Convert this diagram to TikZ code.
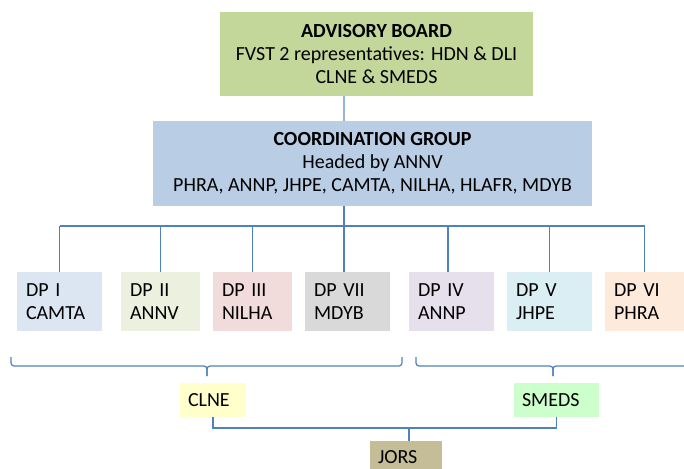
\documentclass[tikz,border=0pt]{standalone}
\usepackage{fontspec}
\setmainfont{Carlito}
\definecolor{abc}{HTML}{C4D79B}
\definecolor{cgc}{HTML}{B9CDE5}
\definecolor{c1}{HTML}{DCE6F2}
\definecolor{c2}{HTML}{EBF1DE}
\definecolor{c3}{HTML}{F2DCDB}
\definecolor{c7}{HTML}{D9D9D9}
\definecolor{c4}{HTML}{E6E0EC}
\definecolor{c5}{HTML}{DBEEF4}
\definecolor{c6}{HTML}{FDEADA}
\definecolor{clnec}{HTML}{FFFFCC}
\definecolor{smedsc}{HTML}{CCFFCC}
\definecolor{jorsc}{HTML}{C4BD97}
\definecolor{linec}{HTML}{4F81BD}
\definecolor{lightlinec}{HTML}{95B3D7}
\tikzset{
  box/.style={inner sep=0pt, font=\fontsize{20}{23}\selectfont, text=black},
  topbox/.style={box, align=center},
  dpbox/.style={box, align=left, inner xsep=9pt, minimum height=59pt},
  smallbox/.style={box, align=left, inner xsep=8pt, minimum height=34pt},
  conn/.style={draw=linec, line width=1.2pt},
  brace/.style={draw=linec, line width=1.2pt, rounded corners=3pt},
}
\begin{document}
\begin{tikzpicture}[x=1pt,y=-1pt]
\useasboundingbox (0,0) rectangle (684,468);
% top boxes
\node[topbox, fill=abc, minimum width=313pt, minimum height=84pt] (ab) at (376.5,54)
  {\textbf{ADVISORY BOARD}\\FVST 2 representatives: HDN \& DLI\\CLNE \& SMEDS};
\node[topbox, fill=cgc, minimum width=439pt, minimum height=85pt] (cg) at (372.5,163.5)
  {\textbf{COORDINATION GROUP}\\Headed by ANNV\\PHRA, ANNP, JHPE, CAMTA, NILHA, HLAFR, MDYB};
% DP boxes
\node[dpbox, fill=c1, text width=67pt] (dp1) at (59.5,301.5) {DP I\\CAMTA};
\node[dpbox, fill=c2, text width=61pt] (dp2) at (160.5,301.5) {DP II\\ANNV};
\node[dpbox, fill=c3, text width=61pt] (dp3) at (252.5,301.5) {DP III\\NILHA};
\node[dpbox, fill=c7, text width=67pt] (dp7) at (347.5,301.5) {DP VII\\MDYB};
\node[dpbox, fill=c4, text width=67pt] (dp4) at (451.5,301.5) {DP IV\\ANNP};
\node[dpbox, fill=c5, text width=67pt] (dp5) at (549.5,301.5) {DP V\\JHPE};
\node[dpbox, fill=c6, text width=61pt] (dp6) at (644.5,301.5) {DP VI\\PHRA};
% bottom boxes
\node[smallbox, fill=clnec, text width=50pt] (clne) at (213,400) {CLNE};
\node[smallbox, fill=smedsc, text width=69pt] (smeds) at (556.5,400) {SMEDS};
\node[smallbox, fill=jorsc, text width=56pt, minimum height=31pt, anchor=north] (jors) at (406,441) {JORS};
% coordinates
\coordinate (spine) at (344,0);
\coordinate (bus) at (0,226);
\coordinate (lowbus) at (0,428);
% connectors
\draw[draw=lightlinec, line width=1.2pt] (ab.south -| spine) -- (cg.north -| spine);
\draw[conn] (cg.south -| spine) -- (dp7.north -| spine);
\draw[conn] (dp1.north |- bus) -- (dp6.north |- bus);
\draw[conn] (dp1.north) -- (dp1.north |- bus);
\draw[conn] (dp2.north) -- (dp2.north |- bus);
\draw[conn] (dp3.north) -- (dp3.north |- bus);
\draw[conn] ([xshift=-3.5pt]dp4.north) -- ([xshift=-3.5pt]dp4.north |- bus);
\draw[conn] (dp5.north) -- (dp5.north |- bus);
\draw[conn] (dp6.north) -- (dp6.north |- bus);
\draw[conn] (clne.south) |- (lowbus -| smeds.south) -- (smeds.south);
\draw[conn] ([xshift=3pt]jors.north) -- ([xshift=3pt]jors.north |- lowbus);
% braces
\draw[brace] (11,357) -- (11,366) -- (207,366) -- (207,376);
\draw[brace] (207,376) -- (207,366) -- (402,366) -- (402,357);
\draw[brace] (416,357) -- (416,366) -- (553,366) -- (553,376);
\draw[brace] (553,376) -- (553,366) -- (690,366) -- (690,357);
\end{tikzpicture}
\end{document}
